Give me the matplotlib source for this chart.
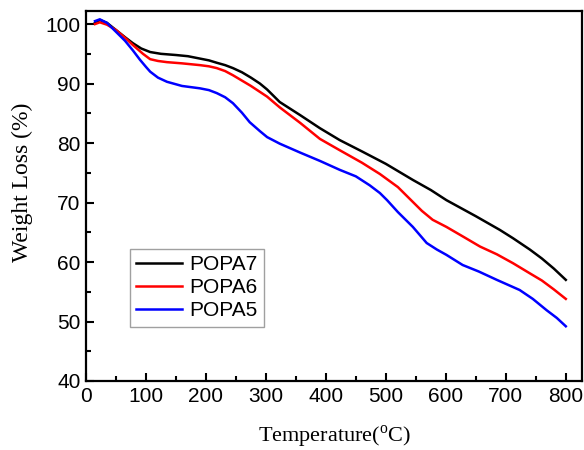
import matplotlib
matplotlib.use('Agg')
import matplotlib.pyplot as plt
from matplotlib.ticker import MultipleLocator

plt.rcParams['mathtext.fontset'] = 'custom'
plt.rcParams['mathtext.rm'] = 'Liberation Serif'

# TGA curves
temp_popa7 = [15, 23, 35, 50, 65, 78, 92, 107, 125, 150, 170, 190, 205, 218, 232, 245, 260, 275, 290, 302, 323, 357, 390,
              423, 460, 500, 545, 575, 601, 650, 690, 712, 740, 760, 780, 800]
wt_popa7 = [100.2, 100.7, 100.2, 99.0, 97.8, 96.8, 95.9, 95.3, 95.0, 94.8, 94.6, 94.2, 93.9, 93.5, 93.1, 92.6, 91.9, 91.0,
            90.0, 89.0, 86.9, 84.7, 82.5, 80.5, 78.6, 76.5, 73.8, 72.1, 70.4, 67.7, 65.4, 64.0, 62.1, 60.6, 58.9, 57.0]

temp_popa6 = [15, 23, 35, 50, 65, 78, 95, 107, 120, 135, 160, 190, 205, 218, 232, 245, 260, 275, 290, 302, 323, 357, 390,
              423, 460, 490, 520, 540, 560, 578, 601, 630, 657, 685, 712, 740, 760, 780, 800]
wt_popa6 = [100.0, 100.3, 99.9, 99.0, 97.7, 96.5, 95.0, 94.1, 93.8, 93.6, 93.4, 93.1, 92.9, 92.6, 92.1, 91.4, 90.5, 89.6,
            88.6, 87.8, 86.0, 83.4, 80.7, 78.8, 76.7, 74.8, 72.6, 70.6, 68.6, 67.1, 65.9, 64.2, 62.6, 61.3, 59.8, 58.1,
            56.9, 55.4, 53.8]

temp_popa5 = [15, 23, 35, 52, 65, 78, 90, 100, 107, 120, 135, 160, 190, 205, 218, 232, 245, 260, 273, 290, 302, 323, 357,
              390, 423, 450, 473, 490, 502, 520, 545, 568, 585, 601, 628, 655, 685, 723, 745, 768, 785, 800]
wt_popa5 = [100.5, 100.8, 100.2, 98.5, 97.2, 95.6, 94.0, 92.8, 92.0, 91.0, 90.3, 89.6, 89.2, 88.9, 88.4, 87.7, 86.7, 85.1,
            83.5, 82.0, 81.0, 79.9, 78.4, 77.0, 75.5, 74.4, 72.9, 71.6, 70.4, 68.4, 65.9, 63.2, 62.1, 61.2, 59.5, 58.4,
            57.0, 55.3, 53.8, 51.9, 50.6, 49.2]

fig = plt.figure(figsize=(5.84, 4.5), dpi=100)
ax = fig.add_axes([86 / 584, 1 - 381 / 450, 496 / 584, 370 / 450])

ax.plot(temp_popa7, wt_popa7, color='black', lw=1.8, label='POPA7')
ax.plot(temp_popa6, wt_popa6, color='red', lw=1.8, label='POPA6')
ax.plot(temp_popa5, wt_popa5, color='blue', lw=1.8, label='POPA5')

ax.set_xlim(0, 827)
ax.set_ylim(40, 102.2)
ax.xaxis.set_major_locator(MultipleLocator(100))
ax.xaxis.set_minor_locator(MultipleLocator(50))
ax.yaxis.set_major_locator(MultipleLocator(10))
ax.yaxis.set_minor_locator(MultipleLocator(5))
ax.tick_params(which='both', direction='in', width=1.5, top=False, right=False)
ax.tick_params(which='major', length=6, labelsize=15, pad=4)
ax.tick_params(which='minor', length=3.5)
for lbl in ax.get_xticklabels() + ax.get_yticklabels():
    lbl.set_family('Liberation Sans')
for sp in ax.spines.values():
    sp.set_linewidth(1.6)

ax.set_xlabel('Temperature($^{\\rm o}$C)', family='Liberation Serif', fontsize=16, labelpad=13)
ax.set_ylabel('Weight Loss (%)', family='Liberation Serif', fontsize=17)
ax.yaxis.set_label_coords(-0.107, 0.536)

leg = ax.legend(loc='upper left', bbox_to_anchor=(0.089, 0.357), fancybox=False,
                prop={'family': 'Liberation Sans', 'size': 15}, handlelength=2.2,
                handletextpad=0.35, labelspacing=0.2, borderpad=0.3, borderaxespad=0)
leg.get_frame().set_edgecolor('#888888')
leg.get_frame().set_linewidth(1.0)

fig.savefig('out.png', dpi=100)
